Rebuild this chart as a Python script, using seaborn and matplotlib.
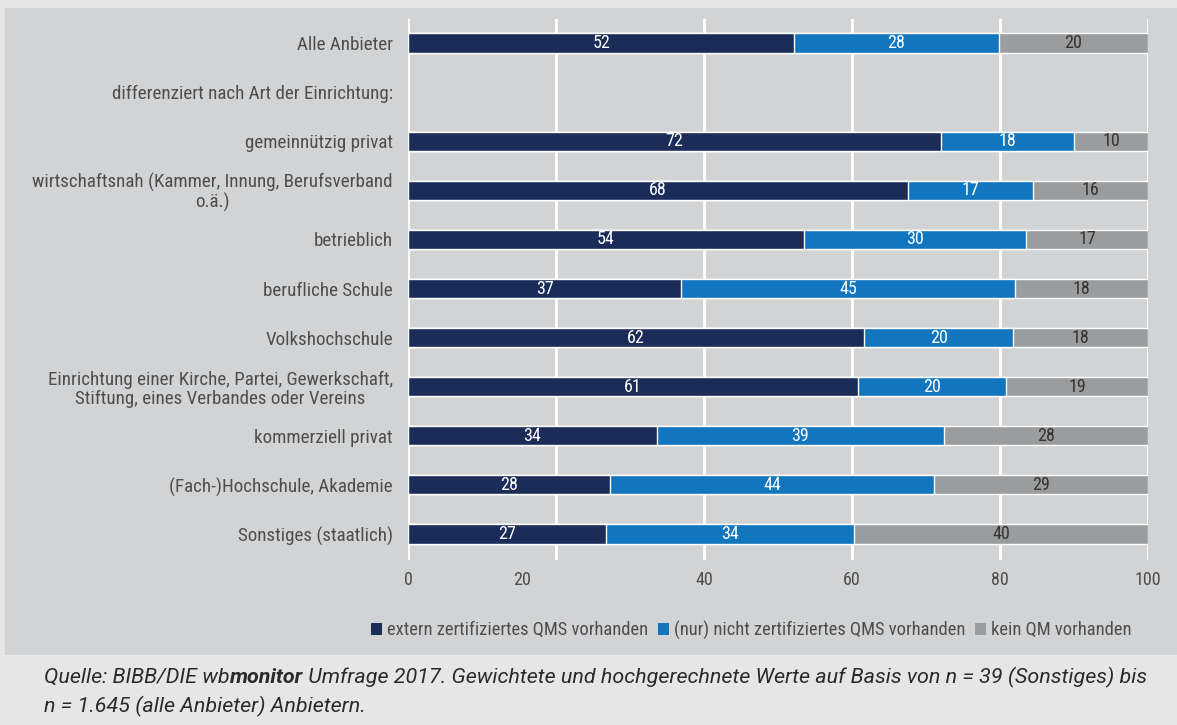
import numpy as np
import pandas as pd
import seaborn as sns
from matplotlib import pyplot as plt
from matplotlib.patches import Patch, Rectangle
from matplotlib.transforms import ScaledTranslation
from matplotlib import font_manager

categories = ['Alle Anbieter',
              'differenziert nach Art der Einrichtung:',
              'gemeinnützig privat',
              'wirtschaftsnah (Kammer, Innung, Berufsverband\no.ä.)',
              'betrieblich',
              'berufliche Schule',
              'Volkshochschule',
              'Einrichtung einer Kirche, Partei, Gewerkschaft,\nStiftung, eines Verbandes oder Vereins',
              'kommerziell privat',
              '(Fach-)Hochschule, Akademie',
              'Sonstiges (staatlich)']
# segment lengths (estimated from the bars) and the printed numbers
extern = [52.2, np.nan, 72.0, 67.6, 53.5, 36.9, 61.6, 60.8, 33.6, 27.3, 26.8]
nicht = [27.6, np.nan, 18.0, 16.9, 30.0, 45.1, 20.2, 20.0, 38.8, 43.8, 33.5]
kein = [20.2, np.nan, 10.0, 15.5, 16.5, 18.0, 18.2, 19.2, 27.6, 28.9, 39.7]
lab_extern = [52, None, 72, 68, 54, 37, 62, 61, 34, 28, 27]
lab_nicht = [28, None, 18, 17, 30, 45, 20, 20, 39, 44, 34]
lab_kein = [20, None, 10, 16, 17, 18, 18, 19, 28, 29, 40]
series = ['extern zertifiziertes QMS vorhanden',
          '(nur) nicht zertifiziertes QMS vorhanden',
          'kein QM vorhanden']
xticks = [0, 20, 40, 60, 80, 100]
caption1 = ['Quelle: BIBB/DIE wb', 'monitor',
            ' Umfrage 2017. Gewichtete und hochgerechnete Werte auf Basis von n = 39 (Sonstiges) bis']
caption2 = 'n = 1.645 (alle Anbieter) Anbietern.'

c_dark = '#1c2c59'
c_blue = '#1176bd'
c_gray = '#9a9c9d'
bg = '#d2d3d5'
txt = '#4d4d4d'

sns.set_theme(style='white')

# pick a narrow font if one is installed
fonts = font_manager.fontManager.ttflist
names = set(f.name for f in fonts)
stretch = 'normal'
fam = 'DejaVu Sans'
for cand in ['Liberation Sans Narrow', 'Roboto Condensed', 'Open Sans Condensed']:
    if cand in names:
        fam = cand
        break
else:
    if any(f.name == 'DejaVu Sans' and f.stretch == 'condensed' for f in fonts):
        stretch = 'condensed'
    elif 'Roboto' in names:
        fam = 'Roboto'
plt.rcParams['font.family'] = [fam, 'DejaVu Sans']
plt.rcParams['font.stretch'] = stretch
cap_fam = ['Roboto', 'DejaVu Sans'] if 'Roboto' in names else ['DejaVu Sans']

df = pd.DataFrame({'cat': categories, 'a': extern, 'b': nicht, 'c': kein})
df['ab'] = df['a'] + df['b']
df['abc'] = df['ab'] + df['c']

fig = plt.figure(figsize=(11.77, 7.25), dpi=100)
fig.patch.set_facecolor('#e6e6e6')
fig.patches.append(Rectangle((5 / 1177, 1 - 655 / 725), 1, (655 - 8) / 725,
                             transform=fig.transFigure, facecolor=bg,
                             edgecolor='none', zorder=-5))
ax = fig.add_axes([408 / 1177, 1 - 560 / 725, 740 / 1177, (560 - 19) / 725])
ax.set_facecolor(bg)

for col, color in [('abc', c_gray), ('ab', c_blue), ('a', c_dark)]:
    sns.barplot(data=df, x=col, y='cat', order=categories, color=color,
                width=0.39, saturation=1, orient='h', ax=ax, zorder=3)

for i in range(len(categories)):
    if lab_extern[i] is None:
        continue
    a, b, c = extern[i], nicht[i], kein[i]
    ax.text(a / 2, i, str(lab_extern[i]), ha='center', va='center',
            color='white', fontsize=13, zorder=5)
    ax.text(a + b / 2, i, str(lab_nicht[i]), ha='center', va='center',
            color='white', fontsize=13, zorder=5)
    ax.text(a + b + c / 2, i, str(lab_kein[i]), ha='center', va='center',
            color='#333333', fontsize=13, zorder=5)

ax.set_xlim(0, 100)
ax.set_ylim(10.53, -0.49)
ax.set_xticks(xticks)
ax.set_xticklabels([str(t) for t in xticks])
ax.grid(axis='x', color='white', linewidth=2, zorder=1)
ax.set_axisbelow(True)
for s in ax.spines.values():
    s.set_visible(False)
ax.set_xlabel('')
ax.set_ylabel('')
ax.tick_params(axis='y', length=0, pad=11, labelsize=13.7, labelcolor=txt)
ax.tick_params(axis='x', length=0, pad=8, labelsize=13, labelcolor=txt)
for t in ax.get_yticklabels():
    t.set_multialignment('center')
    t.set_linespacing(1.05)
# the "20" label sits left of its gridline in the original
offset = ScaledTranslation(-0.34, 0, fig.dpi_scale_trans)
lbl20 = ax.xaxis.get_major_ticks()[1].label1
lbl20.set_transform(lbl20.get_transform() + offset)

handles = [Patch(facecolor=c, edgecolor='none') for c in [c_dark, c_blue, c_gray]]
fig.legend(handles, series, loc='center right', bbox_to_anchor=(1148 / 1177, 1 - 630 / 725),
           ncol=3, frameon=False, fontsize=13.3, labelcolor=txt,
           handlelength=0.6, handleheight=0.6, handletextpad=0.25, columnspacing=0.55)

# caption, size fitted to the reference line width
r = fig.canvas.get_renderer()
base = 1 - 683 / 725
size = 14.0
for attempt in range(2):
    parts = []
    x = 44 / 1177
    for k, s in enumerate(caption1):
        t = fig.text(x, base, s, ha='left', va='baseline', fontsize=size,
                     style='italic', color='#2a2a2a', family=cap_fam,
                     fontweight='bold' if k == 1 else 'normal')
        x = t.get_window_extent(r).x1 / fig.bbox.width
        parts.append(t)
    width = x * 1177 - 44
    if attempt == 0:
        for t in parts:
            t.remove()
        size = size * 1104 / width
fig.text(44 / 1177, 1 - 712 / 725, caption2, ha='left', va='baseline', fontsize=size,
         style='italic', color='#2a2a2a', family=cap_fam)

fig.savefig('out.png', dpi=100, facecolor=fig.get_facecolor())
